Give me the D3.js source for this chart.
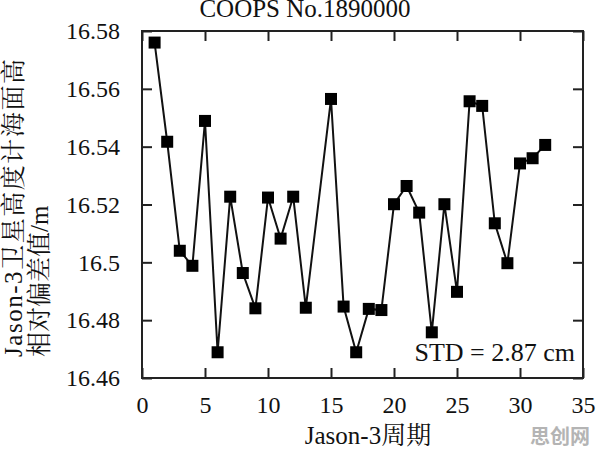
<!DOCTYPE html>
<html>
<head>
<meta charset="utf-8">
<script src="https://cdn.jsdelivr.net/npm/d3@7"></script>
<style>
  body { margin: 0; background: #fff; }
  svg { display: block; }
</style>
</head>
<body>
<svg id="chart"></svg>
<script>
// Jason-3 cycles and relative offset (m); cycle 14 has no point
var cycles = [1, 2, 3, 4, 5, 6, 7, 8, 9, 10, 11, 12, 13, 15, 16, 17, 18, 19, 20,
              21, 22, 23, 24, 25, 26, 27, 28, 29, 30, 31, 32];
var offsets = [16.5760, 16.5417, 16.5040, 16.4988, 16.5489, 16.4689, 16.5227, 16.4963,
               16.4841, 16.5224, 16.5082, 16.5227, 16.4843, 16.5565, 16.4847, 16.4689,
               16.4839, 16.4835, 16.5201, 16.5264, 16.5172, 16.4758, 16.5201, 16.4898,
               16.5557, 16.5541, 16.5135, 16.4997, 16.5342, 16.5360, 16.5406];
var xTicks = [0, 5, 10, 15, 20, 25, 30, 35];
var yTicks = [16.46, 16.48, 16.50, 16.52, 16.54, 16.56, 16.58];
var yTickLabels = ['16.46', '16.48', '16.5', '16.52', '16.54', '16.56', '16.58'];

var SERIF = '"Liberation Serif", "Noto Serif CJK SC", "Noto Sans CJK SC", serif';

var chart = {
  margin: { top: 31, right: 13, bottom: 71, left: 142 },

  init: function() {
    var self = this;
    self.width = 596 - self.margin.left - self.margin.right;
    self.height = 449 - self.margin.top - self.margin.bottom;

    self.svg = d3.select('#chart')
      .attr('width', 596)
      .attr('height', 449);

    self.svg.append('rect')
      .attr('width', 596).attr('height', 449).attr('fill', '#fff');

    self.g = self.svg.append('g')
      .attr('transform', 'translate(' + self.margin.left + ',' + self.margin.top + ')');

    self.x = d3.scaleLinear().domain([0, 35]).range([0, self.width]);
    self.y = d3.scaleLinear().domain([16.46, 16.58]).range([self.height, 0]);

    self.drawAxes();
    self.drawSeries();
    self.drawText();
  },

  drawAxes: function() {
    var self = this;
    var tick = 10;

    var bottom = self.g.append('g')
      .attr('transform', 'translate(0,' + self.height + ')')
      .call(d3.axisBottom(self.x).tickValues(xTicks).tickSizeInner(-tick).tickSizeOuter(0).tickPadding(18));
    var top = self.g.append('g')
      .call(d3.axisTop(self.x).tickValues(xTicks).tickSizeInner(-tick).tickSizeOuter(0).tickFormat(''));
    var left = self.g.append('g')
      .call(d3.axisLeft(self.y).tickValues(yTicks).tickSizeInner(-tick).tickSizeOuter(0).tickPadding(22)
        .tickFormat(function(d, i) { return yTickLabels[i]; }));
    var right = self.g.append('g')
      .attr('transform', 'translate(' + self.width + ',0)')
      .call(d3.axisRight(self.y).tickValues(yTicks).tickSizeInner(-tick).tickSizeOuter(0).tickFormat(''));

    [bottom, top, left, right].forEach(function(a) {
      a.attr('font-family', SERIF).attr('font-size', 24);
      a.select('.domain').remove();
      a.selectAll('.tick line').attr('stroke', '#222').attr('stroke-width', 2);
      a.selectAll('.tick text')
        .style('font-family', SERIF)
        .style('font-size', '24px')
        .attr('fill', '#111');
    });

    self.g.append('rect')
      .attr('width', self.width)
      .attr('height', self.height)
      .attr('fill', 'none')
      .attr('stroke', '#222')
      .attr('stroke-width', 2);
  },

  drawSeries: function() {
    var self = this;
    var pts = cycles.map(function(c, i) { return { c: c, v: offsets[i] }; });
    var s = 12;

    var line = d3.line()
      .x(function(d) { return self.x(d.c); })
      .y(function(d) { return self.y(d.v); });

    self.g.append('path')
      .datum(pts)
      .attr('d', line)
      .attr('fill', 'none')
      .attr('stroke', '#111')
      .attr('stroke-width', 2);

    self.g.selectAll('.pt')
      .data(pts)
      .enter().append('rect')
      .attr('class', 'pt')
      .attr('x', function(d) { return self.x(d.c) - s / 2; })
      .attr('y', function(d) { return self.y(d.v) - s / 2; })
      .attr('width', s)
      .attr('height', s)
      .attr('fill', '#000');
  },

  drawText: function() {
    var self = this;

    self.svg.append('text')
      .attr('x', 305).attr('y', 17)
      .attr('text-anchor', 'middle')
      .style('font-family', SERIF)
      .style('font-size', '25px')
      .attr('fill', '#111')
      .text('COOPS No.1890000');

    self.g.append('text')
      .attr('x', self.width - 8).attr('y', self.height - 17)
      .attr('text-anchor', 'end')
      .style('font-family', SERIF)
      .style('font-size', '26px')
      .attr('fill', '#111')
      .text('STD = 2.87 cm');

    self.svg.append('text')
      .attr('x', 368).attr('y', 444)
      .attr('text-anchor', 'middle')
      .style('font-family', SERIF)
      .style('font-size', '25px')
      .attr('fill', '#111')
      .text('Jason-3周期');

    var yl = self.svg.append('text')
      .attr('transform', 'translate(0,357) rotate(-90)')
      .style('font-family', SERIF)
      .style('font-size', '25px')
      .attr('fill', '#111');
    yl.append('tspan').attr('x', 0).attr('y', 22)
      .attr('textLength', 298).attr('lengthAdjust', 'spacing')
      .text('Jason-3卫星高度计海面高');
    yl.append('tspan').attr('x', 0).attr('y', 48).text('相对偏差值/m');

    // watermark
    self.svg.append('text')
      .attr('x', 590).attr('y', 444)
      .attr('text-anchor', 'end')
      .style('font-family', '"Noto Sans CJK SC", sans-serif')
      .style('font-weight', 'bold')
      .style('font-size', '20px')
      .attr('fill', '#b4b4b4')
      .text('思创网');
  }
};

chart.init();
</script>
</body>
</html>
